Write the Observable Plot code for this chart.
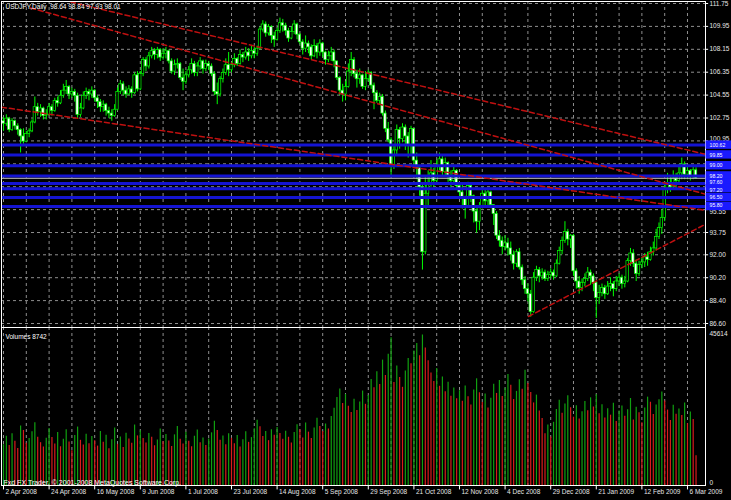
<!DOCTYPE html>
<html><head><meta charset="utf-8">
<script src="https://cdn.jsdelivr.net/npm/d3@7"></script>
<script src="https://cdn.jsdelivr.net/npm/@observablehq/plot@0.6"></script>
<style>
html,body{margin:0;padding:0;background:#000;}
#chart{width:731px;height:500px;overflow:hidden;background:#000;}
#chart svg{display:block;}
</style></head><body><div id="chart"></div>
<script>
const symbolTitle = "USDJPY,Daily  98.64 98.84 97.93 98.01";
const volumeTitle = "Volumes 8742";
const footerText = "Fxd FX Trader, \u00a9 2001-2008 MetaQuotes Software Corp.";
const dateLabels = ["2 Apr 2008","24 Apr 2008","16 May 2008","9 Jun 2008","1 Jul 2008","23 Jul 2008","14 Aug 2008","5 Sep 2008","29 Sep 2008","21 Oct 2008","12 Nov 2008","4 Dec 2008","29 Dec 2008","21 Jan 2009","12 Feb 2009","6 Mar 2009"];
const priceTickLabels = ["86.60","88.40","90.20","92.00","93.75","95.55","97.35","99.15","100.95","102.75","104.55","106.35","108.15","109.95","111.75"];
const volumeTickLabels = ["45614","0"];
const firstOpen = 102.5;
const closes = [
102.3,102.7,101.8,102.5,102.1,101.8,101.3,100.9, 101.5,101.7,102.4,103.6,103.2,103.5,102.9,103.0,
103.6,103.3,104.1,103.9,104.5,104.9,105.2,104.6, 104.8,104.5,103.0,103.5,104.5,104.8,104.6,104.9,
104.3,104.0,103.6,103.8,103.3,103.1,102.9,103.4, 104.8,105.4,104.9,104.6,105.0,104.7,106.1,105.0,
106.2,107.3,106.8,107.6,108.0,107.7,108.1,107.5, 107.8,108.0,107.2,106.4,106.9,107.0,105.9,105.6,
106.1,106.5,107.0,106.3,106.8,107.2,106.6,107.0, 106.8,106.2,104.8,104.6,105.8,106.3,106.9,106.5,
106.9,107.4,107.0,107.7,107.5,107.9,107.6,108.0, 107.8,108.2,109.7,110.1,109.4,109.9,109.2,108.9,
109.6,110.2,110.0,109.6,109.0,109.5,110.1,109.3, 108.7,108.2,108.6,108.3,107.6,108.4,107.9,108.6,
107.9,107.3,107.6,107.9,107.2,105.9,104.9,104.6, 105.2,106.4,107.3,106.2,105.8,106.1,105.2,105.8,
106.3,105.3,104.7,104.1,104.4,103.1,101.9,101.0, 99.0,100.2,101.8,101.1,102.0,101.3,100.6,101.9,
99.4,98.8,97.3,92.2,96.8,97.6,98.4,97.8, 98.9,99.5,98.5,99.2,98.2,97.8,98.6,97.4,
96.9,96.4,95.8,97.4,96.6,95.4,94.6,95.8, 96.8,96.2,96.9,95.9,95.2,93.5,93.1,92.6,
92.9,92.5,92.0,91.3,92.2,91.0,90.0,89.3, 88.9,87.5,90.2,90.8,90.3,90.6,90.1,90.4,
90.6,90.3,91.3,92.3,93.1,93.8,93.2,93.5, 90.7,89.9,89.4,89.8,90.1,90.6,90.3,89.8,
88.6,89.0,89.4,88.9,89.5,89.7,89.3,89.9, 90.2,89.7,89.9,91.5,92.1,91.3,90.5,91.2,
91.4,91.8,91.6,92.2,92.5,93.4,94.1,94.9, 97.2,97.6,97.3,98.0,97.8,98.4,99.1,98.3,
98.6,98.2,98.64,98.01];
const highs = [
102.8,103.0,102.8,102.7,102.6,102.3,101.9,101.9, 101.7,101.9,102.6,104.4,103.9,103.8,103.6,103.4,
103.9,103.8,104.3,104.4,104.9,105.4,105.7,105.3, 105.1,105.0,104.7,103.9,104.8,105.1,105.0,105.2,
105.0,104.5,104.2,104.1,103.9,103.6,103.4,103.8, 105.1,105.7,105.6,105.2,105.3,105.2,106.3,106.4,
106.4,107.5,107.5,107.9,108.3,108.2,108.3,108.2, 108.2,108.3,108.1,107.4,107.3,107.4,107.1,106.6,
106.4,106.8,107.4,107.2,107.1,107.5,107.3,107.3, 107.2,107.0,106.4,105.5,106.0,106.6,107.4,107.9,
107.1,107.8,107.5,108.1,107.9,108.3,108.2,108.4, 108.3,108.4,109.9,110.4,110.3,110.1,110.0,109.5,
109.8,110.6,110.5,110.2,109.8,109.9,110.4,110.2, 109.4,108.9,109.2,108.8,108.5,108.9,108.6,108.9,
108.7,108.0,108.0,108.3,108.1,107.2,106.0,105.4, 105.6,107.0,107.9,107.5,106.5,106.6,106.2,106.4,
106.5,106.4,105.5,104.9,104.7,104.6,103.3,102.4, 101.2,100.6,102.2,102.0,102.3,102.2,101.6,102.1,
101.9,100.0,98.5,97.6,98.1,98.6,99.4,98.8, 99.4,100.0,99.8,99.6,99.3,98.6,99.0,98.7,
97.5,97.6,96.6,97.7,97.5,96.7,95.6,96.1, 97.3,97.1,97.2,97.0,95.9,95.4,93.9,93.4,
93.5,93.3,93.0,92.3,92.4,92.5,91.2,90.3, 89.7,89.2,90.6,91.1,91.0,90.9,90.8,90.7,
90.9,90.8,91.6,92.6,93.4,94.6,94.0,93.6, 93.6,90.9,90.3,90.1,90.5,91.0,90.8,90.5,
89.9,89.6,89.7,89.6,89.9,90.2,89.9,90.3, 90.5,90.4,90.3,91.7,92.5,92.4,91.6,91.5,
91.8,92.1,92.2,92.6,93.0,94.0,94.5,95.5, 97.6,98.4,98.1,98.6,98.4,99.1,99.6,99.3,
98.9,98.7,98.9,98.84];
const lows = [
101.7,102.1,101.6,101.7,101.8,101.4,100.0,100.7, 100.8,101.2,101.6,102.3,102.9,102.8,102.6,102.6,
102.9,102.9,103.2,103.6,103.8,104.3,104.6,104.2, 104.3,104.0,102.7,102.8,103.4,104.2,104.1,104.3,
104.0,103.5,103.2,103.2,102.9,102.7,102.5,102.8, 103.3,104.6,104.5,104.3,104.5,104.3,104.6,104.8,
104.9,106.0,106.4,106.6,107.4,107.3,107.4,107.2, 107.3,107.4,107.0,106.2,106.1,106.6,105.7,104.9,
105.4,105.9,106.2,106.0,106.0,106.5,106.2,106.4, 106.5,106.0,104.5,103.8,104.4,105.5,106.1,106.0,
106.3,106.7,106.8,106.9,107.1,107.3,107.2,107.4, 107.4,107.6,108.1,109.5,109.1,109.2,108.6,108.3,
108.8,109.4,109.5,109.2,108.7,108.9,109.3,108.9, 108.5,107.7,107.9,107.8,107.3,107.5,107.4,107.6,
107.5,106.9,107.1,107.2,106.7,105.7,104.5,104.0, 104.1,105.1,106.0,105.9,105.1,105.4,105.0,104.9,
105.6,105.0,103.4,103.9,103.8,102.9,101.6,100.8, 98.1,98.7,99.8,100.3,100.8,100.2,99.6,99.8,
99.1,97.9,96.6,90.8,92.0,95.8,97.3,97.3, 97.6,98.6,98.2,98.2,97.7,97.2,97.6,97.2,
96.6,95.6,94.8,95.7,96.1,94.5,93.7,93.9, 95.6,95.8,95.8,95.7,94.3,93.2,92.6,92.0,
92.3,91.9,91.5,90.8,91.0,90.8,89.6,88.9, 88.3,87.1,87.4,89.9,89.8,90.0,89.9,89.9,
90.1,90.0,90.2,91.2,92.0,92.9,92.7,92.5, 90.3,89.3,88.9,89.1,89.5,89.9,89.6,89.1,
87.0,88.1,88.7,88.5,88.8,89.1,88.7,89.1, 89.5,89.3,89.4,89.8,91.1,91.0,89.9,90.3,
90.9,91.0,91.1,91.5,91.9,92.3,93.2,93.6, 94.6,96.8,96.9,97.2,97.1,97.6,97.9,97.9,
97.9,97.8,97.9,97.93];
const volumes = [
12000,14500,11800,15200,13000,10900,17500,16200,12400,13800,15800,18500,14200,12600,11300,13900,
16800,14100,12200,15600,11400,13600,16400,12800,10200,14700,17200,13300,11900,15100,12300,14400,
13200,11600,15900,12700,14800,10800,13500,16900,12100,14300,11200,15400,13700,12400,17800,14600,
16100,13800,12500,15300,14200,11700,13400,16600,12900,15000,13100,11500,14900,17400,13600,12200,
15700,13000,11400,14500,16300,12600,14000,11800,13700,15500,18900,16200,13300,14600,12000,15200,
13900,12300,14700,11300,13500,15800,12700,14100,16700,19200,17300,14400,15900,13200,16400,14800,
17100,15300,13600,16000,14200,12500,15600,17900,16300,14000,18400,15700,13800,16900,19800,17400,
15900,18100,16600,20300,22700,25900,28400,24100,26800,23300,21500,25400,22100,24600,27800,23900,
26500,31200,28800,33500,29700,36900,32400,38600,43500,30300,35200,31800,28900,33700,37400,35800,
39600,41800,38200,44300,40500,36700,33100,30600,34400,29200,31900,27600,30400,26300,28700,25500,
27900,24800,29300,26100,23700,28100,31400,27300,24400,26900,22800,25700,29800,27100,30900,26200,
28600,32700,29500,25300,27700,31100,28300,33900,30000,27400,24300,26600,21900,19700,15200,17800,
14300,18600,22400,25100,21300,24000,26400,22900,20100,23500,19600,21700,24700,22000,25800,23100,
26700,21100,23800,19900,22600,20700,24200,18800,21900,23400,20400,22300,25600,19300,23000,21400,
18500,22800,26000,24500,20900,23700,25200,27500,24900,22200,19100,23600,21000,22500,20600,24300,
18200,21600,19400,8742];
// trend lines: [bar index, price] end points
const trendA = [[23.5,111.88],[246.3,99.9]];
const trendB = [[9.5,111.4],[246.3,96.76]];
const trendC = [[-0.7,103.6],[246.3,95.5]];
const trendD = [[184.2,87.15],[246.3,94.4]];
const levelPrices = [100.62,99.85,99.0,98.2,97.6,97.2,96.5,95.8];
const bidPrice = 98.01;

const opens = [firstOpen, ...closes.slice(0, -1)];
const bars = closes.map((c, i) => ({i, o: opens[i], h: highs[i], l: lows[i], c}));
const xDomain = [-0.702, 246.32];
const xMax = xDomain[1];
const gridIdx = d3.range(0, 247, 8);
const dateIdx = dateLabels.map((d, k) => k * 16);
const priceTicks = priceTickLabels.map(Number);
const lvMin = d3.min(levelPrices), lvMax = d3.max(levelPrices);
// tick labels hidden under the level boxes (as in the reference)
const shownTickLabels = priceTickLabels.filter(s => +s < lvMin - 0.2 || +s > lvMax + 0.2);
const font = "Liberation Sans, Arial, sans-serif";
const txt = "#e6e6e6";
const gridColor = "#8e8e8e";
const trendColor = "#c01010";
const levelColor = "#1414d2";

// small vertical nudges so that crowded right-axis labels do not collide
function nudgeTick(s) { return s === "100.95" ? -1.8 : s === "95.55" ? 2 : 0; }
function nudgeLevel(k) { return [0.6, 0, 0, 0, -1, 1.6, 0, -1.6][k]; }
const tickTextMarks = Array.from(new Set(shownTickLabels.map(nudgeTick))).map(dy =>
  Plot.text(shownTickLabels.filter(s => nudgeTick(s) === dy), {x: xMax, y: d => +d, text: d => d, dx: 4, dy, textAnchor: "start", fill: txt}));
const levelTextMarks = levelPrices.map((p, k) =>
  Plot.text([p], {x: xMax, y: d => d, text: d => d.toFixed(2), dx: 4, dy: nudgeLevel(k), textAnchor: "start", fill: "#fff", fontSize: 5.2}));

const main = Plot.plot({
  width: 731, height: 327,
  marginTop: 1, marginBottom: 0, marginLeft: 1, marginRight: 26,
  style: {background: "#000", color: txt, fontFamily: font, fontSize: "6.5px", overflow: "visible"},
  x: {domain: xDomain, axis: null},
  y: {domain: [86.286, 111.907], axis: null},
  marks: [
    Plot.ruleX(gridIdx, {x: d => d, stroke: gridColor, strokeDasharray: "3,3", strokeWidth: 1}),
    Plot.ruleY(priceTicks, {y: d => d, stroke: gridColor, strokeDasharray: "3,3", strokeWidth: 1}),
    Plot.ruleX(bars, {x: "i", y1: "l", y2: "h", stroke: "#00ff00", strokeWidth: 1}),
    Plot.rect(bars, {x1: d => d.i - 0.42, x2: d => d.i + 0.42, y1: "o", y2: "c",
      fill: d => d.c >= d.o ? "#000" : "#fff", stroke: "#00ff00", strokeWidth: 0.7}),
    Plot.ruleY(levelPrices, {y: d => d, stroke: levelColor, strokeWidth: 3}),
    Plot.ruleY([bidPrice], {y: d => d, stroke: "#c0c0c0", strokeWidth: 1}),
    Plot.line(trendA, {x: "0", y: "1", stroke: trendColor, strokeDasharray: "5,3"}),
    Plot.line(trendB, {x: "0", y: "1", stroke: trendColor, strokeDasharray: "5,3"}),
    Plot.line(trendC, {x: "0", y: "1", stroke: trendColor, strokeDasharray: "5,3"}),
    Plot.line(trendD, {x: "0", y: "1", stroke: trendColor, strokeDasharray: "5,3"}),
    Plot.frame({stroke: "#fff"}),
    // right price axis
    Plot.ruleY(priceTicks, {y: d => d, x1: xMax, x2: xMax + 1.1, stroke: "#fff"}),
    ...tickTextMarks,
    Plot.rect(levelPrices, {x1: xMax + 0.2, x2: xMax + 9.2, y1: d => d - 0.33, y2: d => d + 0.33, fill: "#1a1aff"}),
    ...levelTextMarks,
    Plot.text([symbolTitle], {frameAnchor: "top-left", dx: 4, dy: 3, textAnchor: "start", lineAnchor: "top", fill: "#fff", fontSize: 6.5})
  ]
});

const vol = Plot.plot({
  width: 731, height: 173,
  marginTop: 0, marginBottom: 15, marginLeft: 1, marginRight: 26,
  style: {background: "#000", color: txt, fontFamily: font, fontSize: "6.5px", overflow: "visible"},
  x: {domain: xDomain, axis: null},
  y: {domain: [0, 46500], axis: null},
  marks: [
    Plot.ruleX(gridIdx, {x: d => d, stroke: gridColor, strokeDasharray: "3,3", strokeWidth: 1}),
    Plot.ruleY([0], {stroke: gridColor, strokeDasharray: "3,3"}),
    Plot.ruleX(volumes.map((v, i) => ({i, v, up: i === 0 || v > volumes[i - 1]})), {
      x: "i", y1: 0, y2: "v", stroke: d => d.up ? "#10a010" : "#d81c1c", strokeWidth: 1.2}),
    Plot.frame({stroke: "#fff"}),
    Plot.ruleX(dateIdx, {x: d => d, y1: 0, y2: -1300, stroke: "#fff"}),
    Plot.text(dateLabels, {x: (d, k) => k * 16, frameAnchor: "bottom", text: d => d, dx: 2, dy: 8, textAnchor: "start", fill: txt}),
    Plot.text([volumeTickLabels[0]], {x: xMax, y: 45614, text: d => d, dx: 4, dy: 1, textAnchor: "start", lineAnchor: "top", fill: txt}),
    Plot.text([volumeTickLabels[1]], {x: xMax, y: 0, text: d => d, dx: 4, dy: -1, textAnchor: "start", lineAnchor: "bottom", fill: txt}),
    Plot.text([volumeTitle], {frameAnchor: "top-left", dx: 4, dy: 7, textAnchor: "start", lineAnchor: "top", fill: "#fff"}),
    Plot.text([footerText], {frameAnchor: "bottom-left", dx: 2, dy: -1, textAnchor: "start", lineAnchor: "bottom", fill: "#fff", fontSize: 7})
  ]
});

document.getElementById("chart").append(main, vol);
</script></body></html>
